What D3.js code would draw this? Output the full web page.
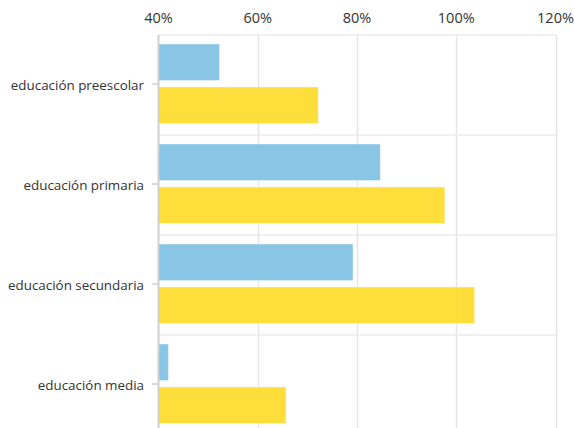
<!DOCTYPE html>
<html><head><meta charset="utf-8">
<script src="https://cdn.jsdelivr.net/npm/d3@7"></script>
<style>
html,body{margin:0;padding:0;background:#fff;overflow:hidden;}
text{font-family:"Open Sans",sans-serif;fill:#333;}
</style></head>
<body>
<script>
const categories = ["educación preescolar","educación primaria","educación secundaria","educación media"];
const series = ["serie1","serie2"];
const values1 = [52.3, 84.7, 79.2, 42.0];
const values2 = [72.2, 97.7, 103.7, 65.7];
const xTicks = [40, 60, 80, 100, 120];
const colors = ["#7fc1e3", "#fddb2a"];

const W = 574, H = 428;
const svg = d3.select("body").append("svg").attr("width", W).attr("height", H);

const x = d3.scaleLinear().domain([40, 120]).range([158.5, 555.5]);
const y = d3.scaleBand().domain(categories).range([35, 435]).padding(0);
const ySub = d3.scaleBand().domain(series).range([9, 88.5]).paddingInner(0.15).paddingOuter(0);

// grid
const g = svg.append("g");
g.selectAll("line.v").data(xTicks.slice(1)).enter().append("line")
  .attr("x1", d => Math.round(x(d)) + 0.5).attr("x2", d => Math.round(x(d)) + 0.5)
  .attr("y1", 35).attr("y2", 440).attr("stroke", "#e6e6e6").attr("stroke-width", 1.5);
g.selectAll("line.h").data(categories).enter().append("line")
  .attr("x1", x(40)).attr("x2", x(120) + 1)
  .attr("y1", d => y(d)).attr("y2", d => y(d))
  .attr("stroke", "#ebebeb").attr("stroke-width", 1.5);

// bars
const data = categories.map((c, i) => ({c, v: [values1[i], values2[i]]}));
const grp = svg.selectAll("g.cat").data(data).enter().append("g")
  .attr("transform", d => `translate(0,${y(d.c)})`);
grp.selectAll("rect").data(d => series.map((s, j) => ({s, v: d.v[j], j}))).enter().append("rect")
  .attr("x", x(40)).attr("y", d => ySub(d.s))
  .attr("width", d => x(d.v) - x(40)).attr("height", ySub.bandwidth())
  .attr("fill", d => colors[d.j]).attr("fill-opacity", 0.92)
  .attr("stroke", "#fff").attr("stroke-opacity", 0.4).attr("stroke-width", 1);

// left axis line
svg.append("line").attr("x1", x(40)).attr("x2", x(40)).attr("y1", 35).attr("y2", 440)
  .attr("stroke", "#cfcfcf").attr("stroke-width", 2);

// top axis labels
svg.append("g").selectAll("text").data(xTicks).enter().append("text")
  .attr("x", d => x(d)).attr("y", 23).attr("text-anchor", "middle")
  .attr("font-size", "14.5px").text(d => d + "%");

// category labels and ticks
const cy = c => y(c) + 49;
svg.append("g").selectAll("line").data(categories).enter().append("line")
  .attr("x1", 152).attr("x2", x(40)).attr("y1", cy).attr("y2", cy)
  .attr("stroke", "#cfcfcf").attr("stroke-width", 1.5);
svg.append("g").selectAll("text").data(categories).enter().append("text")
  .attr("x", 144).attr("y", d => cy(d) + 6).attr("text-anchor", "end")
  .attr("font-size", "13.4px").text(d => d);
</script>
</body></html>
